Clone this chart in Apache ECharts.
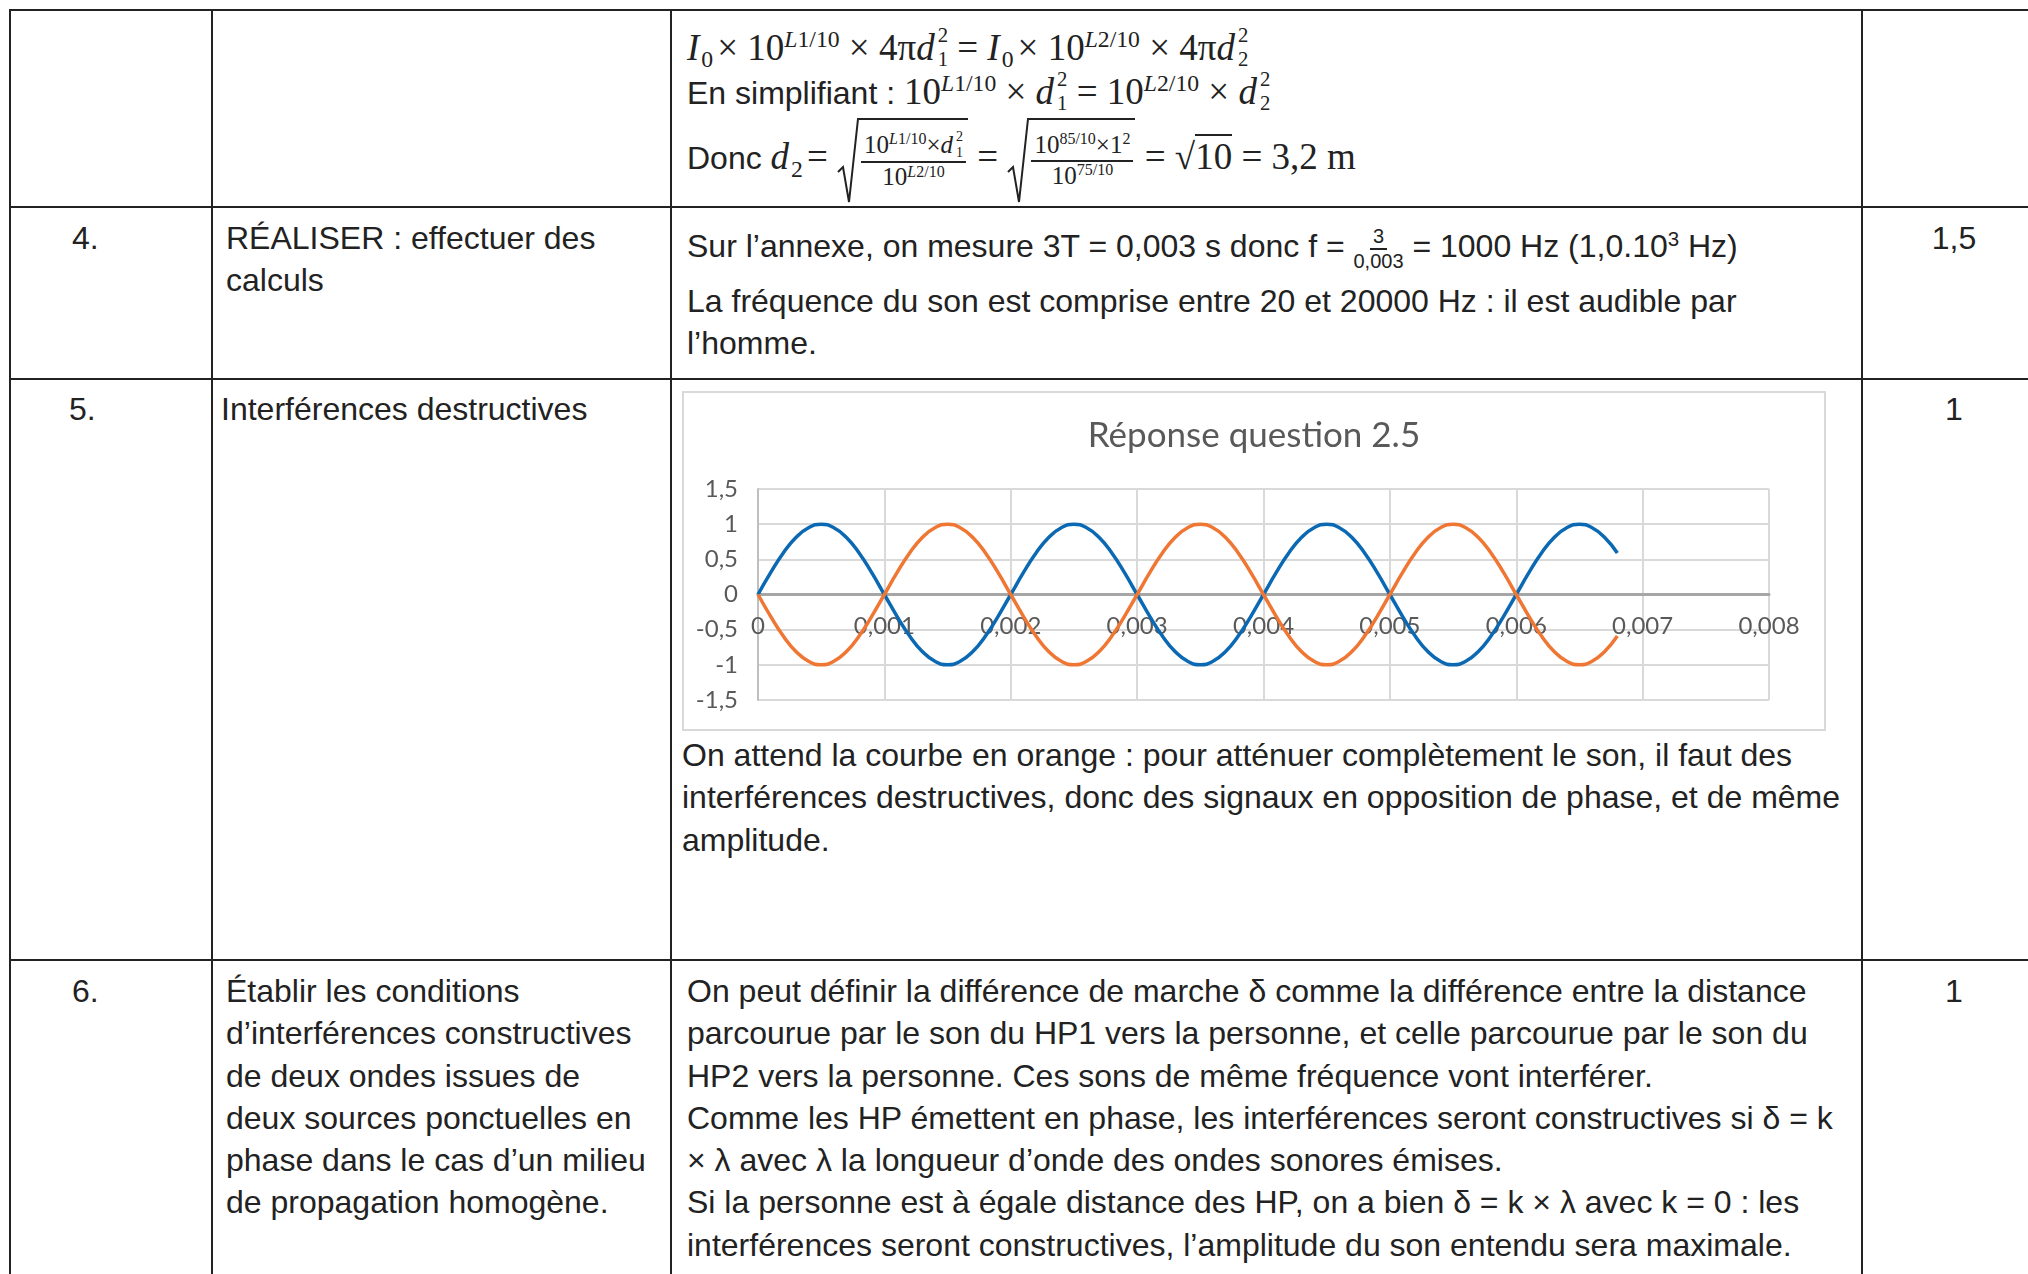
<!DOCTYPE html>
<html lang="fr">
<head>
<meta charset="utf-8">
<title>Réponse question 2.5</title>
<script src="https://cdn.jsdelivr.net/npm/echarts@6/dist/echarts.min.js"></script>
<style>
  body { margin:0; width:2028px; height:1274px; overflow:hidden; background:#fff; position:relative;
         font-family:"Liberation Sans", Arial, sans-serif; color:#222; font-size:32px; }
  .h { position:absolute; left:9px; right:0; height:2px; background:#222; }
  .v { position:absolute; top:9px; bottom:0; width:2px; background:#222; }
  .t { position:absolute; line-height:42.3px; white-space:nowrap; }
  .c { text-align:center; left:1862px; width:184px; }
  .m { font-family:"Liberation Serif", "DejaVu Serif", serif; font-size:37px; }
  .m i { font-style:italic; }
  sup, sub { font-size:0.64em; line-height:0; }
  .m i, .m sub, .m sup { display:inline-block; line-height:1; }
  .m sup { vertical-align:0.55em; }
  .m sub { vertical-align:-0.3em; margin-left:2px; margin-right:4px; }
  .ss { display:inline-block; vertical-align:-0.28em; line-height:1.16; font-size:0.56em; text-align:left; margin-left:3px; }
  .ss span { display:block; }
  .fr { display:inline-flex; flex-direction:column; align-items:center; vertical-align:middle; line-height:1.15; }
  .fr .n { border-bottom:2px solid #222; padding:0 3px; }
  .rad { display:inline-flex; align-items:stretch; vertical-align:middle; }
  .rad svg { display:block; }
  .rad .in { border-top:2px solid #222; padding:0 2px; }
  #chart { position:absolute; left:682px; top:391px; width:1140px; height:336px; border:2px solid #d9d9d9; }
</style>
</head>
<body>

<!-- lignes du tableau -->
<div class="h" style="top:9px"></div>
<div class="h" style="top:206px"></div>
<div class="h" style="top:378px"></div>
<div class="h" style="top:959px"></div>
<div class="v" style="left:9px"></div>
<div class="v" style="left:211px"></div>
<div class="v" style="left:670px"></div>
<div class="v" style="left:1861px"></div>

<!-- ligne 3 : calcul de d2 -->
<div class="t m" style="left:687px; top:23px"><i>I</i><sub>0</sub>× 10<sup><i>L</i>1/10</sup> × 4π<i>d</i><span class="ss"><span>2</span><span>1</span></span> = <i>I</i><sub>0</sub>× 10<sup><i>L</i>2/10</sup> × 4π<i>d</i><span class="ss"><span>2</span><span>2</span></span></div>
<div class="t" style="left:687px; top:67px">En simplifiant : <span class="m">10<sup><i>L</i>1/10</sup> × <i>d</i><span class="ss"><span>2</span><span>1</span></span> = 10<sup><i>L</i>2/10</sup> × <i>d</i><span class="ss"><span>2</span><span>2</span></span></span></div>
<div class="t" style="left:687px; top:118px; line-height:74px">Donc <span class="m"><i>d</i><sub>2</sub>=
  <span class="rad"><svg width="22" height="86" viewBox="0 0 22 86"><polyline points="1,54 6,49 12,84 21,1 22,1" fill="none" stroke="#222" stroke-width="2"/></svg><span class="in"><span class="fr" style="font-size:25px"><span class="n">10<sup><i>L</i>1/10</sup>×<i>d</i><span class="ss"><span>2</span><span>1</span></span></span><span>10<sup><i>L</i>2/10</sup></span></span></span></span>
  =
  <span class="rad"><svg width="22" height="86" viewBox="0 0 22 86"><polyline points="1,54 6,49 12,84 21,1 22,1" fill="none" stroke="#222" stroke-width="2"/></svg><span class="in"><span class="fr" style="font-size:25px"><span class="n">10<sup>85/10</sup>×1<sup>2</sup></span><span>10<sup>75/10</sup></span></span></span></span>
  = √<span style="border-top:2px solid #222">10</span> = 3,2 m</span></div>

<!-- ligne 4 -->
<div class="t" style="left:72px; top:217px">4.</div>
<div class="t" style="left:226px; top:217px">RÉALISER : effectuer des<br>calculs</div>
<div class="t" style="left:687px; top:225px">Sur l’annexe, on mesure 3T = 0,003 s donc f = <span class="fr" style="font-size:20px"><span class="n">3</span><span>0,003</span></span> = 1000 Hz (1,0.10<sup>3</sup> Hz)</div>
<div class="t" style="left:687px; top:280px">La fréquence du son est comprise entre 20 et 20000 Hz : il est audible par</div>
<div class="t" style="left:687px; top:322px">l’homme.</div>
<div class="t c" style="top:217px">1,5</div>

<!-- ligne 5 -->
<div class="t" style="left:69px; top:388px">5.</div>
<div class="t" style="left:221px; top:388px">Interférences destructives</div>
<div class="t c" style="top:388px">1</div>
<div id="chart"></div>
<div class="t" style="left:682px; top:734px">On attend la courbe en orange : pour atténuer complètement le son, il faut des<br>interférences destructives, donc des signaux en opposition de phase, et de même<br>amplitude.</div>

<!-- ligne 6 -->
<div class="t" style="left:72px; top:970px">6.</div>
<div class="t" style="left:226px; top:970px">Établir les conditions<br>d’interférences constructives<br>de deux ondes issues de<br>deux sources ponctuelles en<br>phase dans le cas d’un milieu<br>de propagation homogène.</div>
<div class="t" style="left:687px; top:970px">On peut définir la différence de marche δ comme la différence entre la distance<br>parcourue par le son du HP1 vers la personne, et celle parcourue par le son du<br>HP2 vers la personne. Ces sons de même fréquence vont interférer.<br>Comme les HP émettent en phase, les interférences seront constructives si δ = k<br>× λ avec λ la longueur d’onde des ondes sonores émises.<br>Si la personne est à égale distance des HP, on a bien δ = k × λ avec k = 0 : les<br>interférences seront constructives, l’amplitude du son entendu sera maximale.</div>
<div class="t c" style="top:970px">1</div>

<script>
// temps (s)
var temps = [
  0, 0.0001, 0.0002, 0.0003, 0.0004, 0.0005, 0.0006, 0.0007, 0.0008, 0.0009,
  0.001, 0.0011, 0.0012, 0.0013, 0.0014, 0.0015, 0.0016, 0.0017, 0.0018, 0.0019,
  0.002, 0.0021, 0.0022, 0.0023, 0.0024, 0.0025, 0.0026, 0.0027, 0.0028, 0.0029,
  0.003, 0.0031, 0.0032, 0.0033, 0.0034, 0.0035, 0.0036, 0.0037, 0.0038, 0.0039,
  0.004, 0.0041, 0.0042, 0.0043, 0.0044, 0.0045, 0.0046, 0.0047, 0.0048, 0.0049,
  0.005, 0.0051, 0.0052, 0.0053, 0.0054, 0.0055, 0.0056, 0.0057, 0.0058, 0.0059,
  0.006, 0.0061, 0.0062, 0.0063, 0.0064, 0.0065, 0.0066, 0.0067, 0.0068
];
// signal bleu
var signalBleu = [
  0, 0.31, 0.59, 0.81, 0.95, 1, 0.95, 0.81, 0.59, 0.31,
  0, -0.31, -0.59, -0.81, -0.95, -1, -0.95, -0.81, -0.59, -0.31,
  0, 0.31, 0.59, 0.81, 0.95, 1, 0.95, 0.81, 0.59, 0.31,
  0, -0.31, -0.59, -0.81, -0.95, -1, -0.95, -0.81, -0.59, -0.31,
  0, 0.31, 0.59, 0.81, 0.95, 1, 0.95, 0.81, 0.59, 0.31,
  0, -0.31, -0.59, -0.81, -0.95, -1, -0.95, -0.81, -0.59, -0.31,
  0, 0.31, 0.59, 0.81, 0.95, 1, 0.95, 0.81, 0.59
];
// signal orange (opposition de phase)
var signalOrange = [
  0, -0.31, -0.59, -0.81, -0.95, -1, -0.95, -0.81, -0.59, -0.31,
  0, 0.31, 0.59, 0.81, 0.95, 1, 0.95, 0.81, 0.59, 0.31,
  0, -0.31, -0.59, -0.81, -0.95, -1, -0.95, -0.81, -0.59, -0.31,
  0, 0.31, 0.59, 0.81, 0.95, 1, 0.95, 0.81, 0.59, 0.31,
  0, -0.31, -0.59, -0.81, -0.95, -1, -0.95, -0.81, -0.59, -0.31,
  0, 0.31, 0.59, 0.81, 0.95, 1, 0.95, 0.81, 0.59, 0.31,
  0, -0.31, -0.59, -0.81, -0.95, -1, -0.95, -0.81, -0.59
];

function paires(ys) {
  return temps.map(function (t, i) { return [t, ys[i]]; });
}
function virgule(v) {
  return String(+v.toFixed(4)).replace('.', ',');
}

var myChart = echarts.init(document.getElementById('chart'));
var option = {
  animation: false,
  title: {
    text: 'Réponse question 2.5',
    left: 'center',
    top: 20,
    textStyle: { fontFamily: 'Lato', fontSize: 35, fontWeight: 'normal', color: '#595959' }
  },
  grid: { left: 74, right: 55, top: 96, bottom: 29, outerBoundsMode: 'none' },
  xAxis: {
    type: 'value',
    min: 0,
    max: 0.008,
    interval: 0.001,
    position: 'bottom',
    offset: -105.5, // axe et étiquettes remontés sur y = 0, comme dans Excel
    axisLine: { onZero: false, lineStyle: { color: '#a6a6a6', width: 3 } },
    axisTick: { show: false },
    axisLabel: { color: '#595959', fontFamily: 'Lato', fontSize: 24, margin: 20, formatter: virgule },
    splitLine: { show: true, lineStyle: { color: '#d9d9d9', width: 2 } }
  },
  yAxis: {
    type: 'value',
    min: -1.5,
    max: 1.5,
    interval: 0.5,
    axisLine: { show: true, lineStyle: { color: '#bfbfbf', width: 2 } },
    axisTick: { show: false },
    axisLabel: { color: '#595959', fontFamily: 'Lato', fontSize: 24, margin: 20, formatter: virgule },
    splitLine: { show: true, lineStyle: { color: '#d9d9d9', width: 2 } }
  },
  series: [
    { type: 'line', data: paires(signalBleu), showSymbol: false, smooth: true,
      lineStyle: { color: '#0b69b3', width: 3.5 } },
    { type: 'line', data: paires(signalOrange), showSymbol: false, smooth: true,
      lineStyle: { color: '#ef7633', width: 3.5 } }
  ]
};
myChart.setOption(option);
</script>
</body>
</html>
